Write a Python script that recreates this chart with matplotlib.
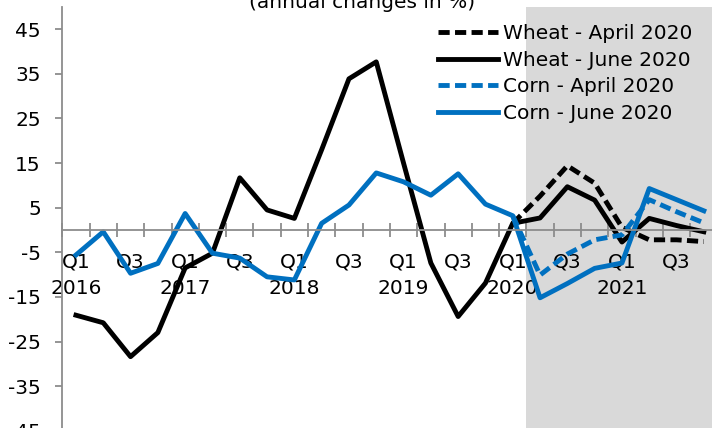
# Wheat and corn price outlook, annual changes per quarter
import matplotlib
matplotlib.use("Agg")
import matplotlib.pyplot as plt
import numpy as np

# ---------------------------
# Data
# ---------------------------
QUARTERS = [f"Q{q} {y}" for y in range(2016, 2022) for q in range(1, 5)]

wheat_june = [-19.1, -20.8, -28.4, -23.0, -8.5, -5.2, 11.7, 4.5,
              2.6, 18.0, 33.9, 37.7, 15.0, -7.4, -19.4, -11.9,
              1.5, 2.7, 9.7, 6.7, -2.7, 2.6, 1.0, -0.4]
wheat_april = [None] * 16 + [1.5, 7.6, 14.4, 10.5, 0.6, -2.2, -2.2, -2.6]
corn_june = [-5.6, -0.4, -9.7, -7.5, 3.7, -5.2, -6.3, -10.5,
             -11.2, 1.5, 5.6, 12.8, 10.8, 7.8, 12.6, 5.8,
             3.2, -15.2, -12.0, -8.6, -7.4, 9.3, 6.8, 4.3]
corn_april = [None] * 16 + [3.2, -10.1, -5.4, -2.2, -1.1, 6.8, 4.1, 1.6]

FORECAST_START = 16.5  # shaded area from Q2 2020 onwards

BLUE = "#0070C0"
FS = 14.5

plt.rcParams["font.family"] = ["DejaVu Sans"]

fig = plt.figure(figsize=(7.12, 4.28), dpi=100)
ax = fig.add_axes([62.3 / 712, 1 - 453 / 428, 655.2 / 712, 446 / 428])

x = np.arange(len(QUARTERS))


def to_arr(vals):
    return np.array([np.nan if v is None else v for v in vals], dtype=float)


ax.axvspan(FORECAST_START, len(QUARTERS) - 0.5, color="#D9D9D9", zorder=0, lw=0)

lw = 3.5
ax.plot(x, to_arr(wheat_april), color="black", lw=lw, dashes=(2.3, 1.1),
        label="Wheat - April 2020", zorder=3)
ax.plot(x, to_arr(wheat_june), color="black", lw=lw, label="Wheat - June 2020",
        zorder=3, solid_joinstyle="round")
ax.plot(x, to_arr(corn_april), color=BLUE, lw=lw, dashes=(2.3, 1.1),
        label="Corn - April 2020", zorder=4)
ax.plot(x, to_arr(corn_june), color=BLUE, lw=lw, label="Corn - June 2020",
        zorder=4, solid_joinstyle="round")

# axes limits / spines
ax.set_xlim(-0.5, len(QUARTERS) - 0.5)
ax.set_ylim(-50, 50)
for s in ["top", "right"]:
    ax.spines[s].set_visible(False)
ax.spines["bottom"].set_position(("data", 0))
ax.spines["bottom"].set_color("#8C8C8C")
ax.spines["left"].set_color("#8C8C8C")
ax.spines["bottom"].set_zorder(5)
ax.spines["left"].set_linewidth(1.3)
ax.spines["bottom"].set_linewidth(1.3)

# y ticks
yt = list(range(-45, 46, 10))
ax.set_yticks(yt)
ax.set_yticklabels([str(v) for v in yt], fontsize=FS)
ax.tick_params(axis="y", direction="out", length=5, width=1.3,
               color="#8C8C8C", pad=10.5)

# x ticks: labels at quarter centres, marks at boundaries
labels = []
for q in QUARTERS:
    qq, yy = q.split()
    if qq == "Q1":
        labels.append(f"Q1\n{yy}")
    elif qq == "Q3":
        labels.append("Q3")
    else:
        labels.append("")
ax.set_xticks(x)
ax.set_xticklabels(labels, fontsize=FS, linespacing=1.55)
ax.tick_params(axis="x", which="major", length=0, pad=16)
ax.set_xticks(np.arange(-0.5, len(QUARTERS)), minor=True)
ax.tick_params(axis="x", which="minor", direction="inout", length=9.6,
               width=1.3, color="#8C8C8C")

fig.text(362 / 712, 1 - 7.5 / 428, "(annual changes in %)", ha="center",
         va="baseline", fontsize=FS)

ax.legend(loc="upper left", bbox_to_anchor=(438.3 / 712, 1 - 24 / 428),
          bbox_transform=fig.transFigure, frameon=False, fontsize=FS,
          borderpad=0, borderaxespad=0, handlelength=2.98,
          handletextpad=0.25, labelspacing=0.38)

fig.savefig("out.png", dpi=100)
